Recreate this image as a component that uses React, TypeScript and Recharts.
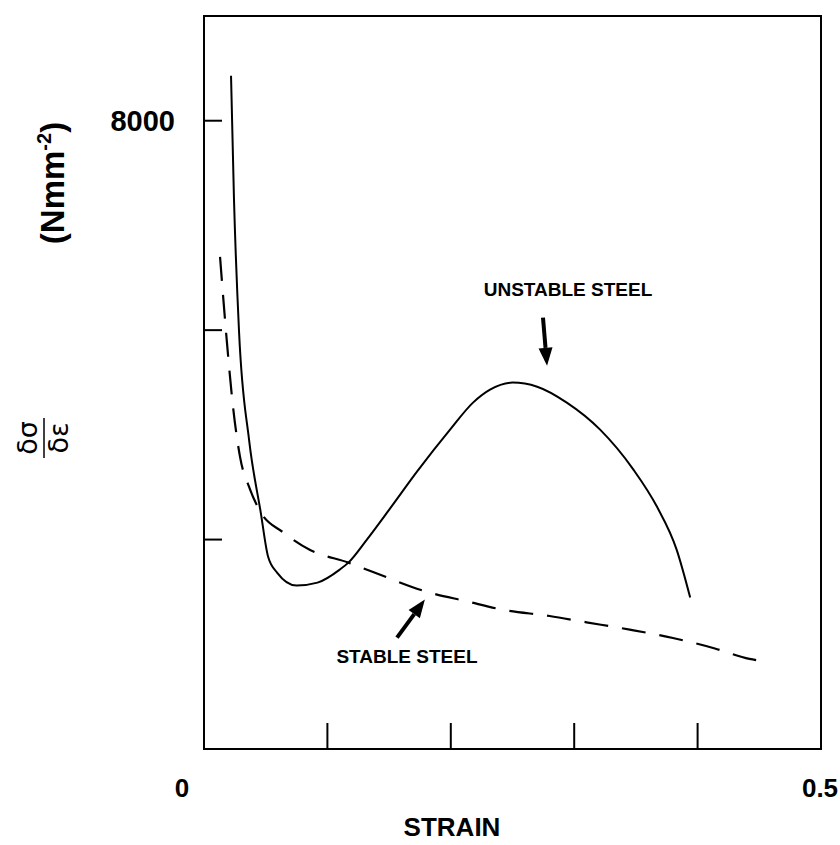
import React from 'react';
import {
  LineChart,
  Line,
  XAxis,
  YAxis,
  ReferenceArea,
  ReferenceLine,
  ReferenceDot,
} from 'recharts';

// Work-hardening rate dσ/dε against true strain for the two steels
const unstableStrain = [
  0.0219, 0.0243, 0.0284, 0.0365, 0.046, 0.0519, 0.0592, 0.075, 0.092, 0.11, 0.117,
  0.132, 0.1507, 0.1726, 0.1994, 0.218, 0.2318, 0.25, 0.27, 0.294, 0.321, 0.348,
  0.367, 0.383, 0.394,
];
const unstableRate = [
  8430, 7250, 5985, 4955, 4258, 3838, 3685, 3561, 3589, 3713, 3780, 4000, 4296, 4649,
  5050, 5308, 5432, 5499, 5460, 5308, 5050, 4668, 4315, 3904, 3446,
];

const stableStrain = [
  0.013, 0.0186, 0.0235, 0.0292, 0.0373, 0.046, 0.064, 0.086, 0.117, 0.137, 0.181,
  0.213, 0.242, 0.28, 0.31, 0.345, 0.38, 0.414, 0.442, 0.453,
];
const stableRate = [
  6700, 5880, 5270, 4790, 4480, 4260, 4070, 3900, 3780, 3690, 3500, 3410, 3330,
  3270, 3210, 3140, 3060, 2960, 2860, 2840,
];

const strainTicks = [0, 0.1, 0.2, 0.3, 0.4, 0.5];
const strainTickLabels: Record<string, string> = { '0': '0', '0.5': '0.5' };
const rateTicks = [4000, 6000, 8000];
const rateTickLabels: Record<string, string> = { '8000': '8000' };

const unstableData = unstableStrain.map((s, i) => ({ strain: s, rate: unstableRate[i] }));
const stableData = stableStrain.map((s, i) => ({ strain: s, rate: stableRate[i] }));

const FONT = '"Liberation Sans", Arial, Helvetica, sans-serif';

const XTick = (props: any) => {
  const { x, y, payload } = props;
  const v = payload.value;
  const label = strainTickLabels[String(v)];
  const inner = v > 0 && v < 0.5;
  return (
    <g>
      {inner && <line x1={x} y1={y} x2={x} y2={y - 26} stroke="#000" strokeWidth={2} />}
      {label && (
        <text
          x={v === 0 ? x - 22 : x - 1}
          y={y + 48}
          textAnchor="middle"
          fontFamily={FONT}
          fontWeight="bold"
          fontSize={26}
          fill="#000"
        >
          {label}
        </text>
      )}
    </g>
  );
};

const YTick = (props: any) => {
  const { x, y, payload } = props;
  const label = rateTickLabels[String(payload.value)];
  return (
    <g>
      <line x1={x} y1={y} x2={x + 18} y2={y} stroke="#000" strokeWidth={2} />
      {label && (
        <text
          x={x - 29}
          y={y + 10}
          textAnchor="end"
          fontFamily={FONT}
          fontWeight="bold"
          fontSize={29}
          fill="#000"
        >
          {label}
        </text>
      )}
    </g>
  );
};

const YTitle = () => (
  <g>
    <text
      transform="translate(64, 183) rotate(-90)"
      textAnchor="middle"
      fontFamily={FONT}
      fontWeight="bold"
      fontSize={33}
      fill="#000"
    >
      (Nmm
      <tspan fontSize={20} dy={-13}>
        -2
      </tspan>
      <tspan dy={13}>)</tspan>
    </text>
    <g transform="translate(44, 438) rotate(-90)">
      <text x={0} y={-7} textAnchor="middle" fontFamily="DejaVu Sans" fontSize={27} fill="#000">
        δσ
      </text>
      <line x1={-20} y1={0} x2={20} y2={0} stroke="#000" strokeWidth={1.5} />
      <text x={0} y={24} textAnchor="middle" fontFamily="DejaVu Sans" fontSize={27} fill="#000">
        δε
      </text>
    </g>
  </g>
);

const XTitle = (props: any) => {
  const { viewBox } = props;
  return (
    <text
      x={viewBox.x + 248}
      y={viewBox.y + 87}
      textAnchor="middle"
      fontFamily={FONT}
      fontWeight="bold"
      fontSize={26}
      fill="#000"
    >
      STRAIN
    </text>
  );
};

const Arrow = (props: any) => {
  const { x1, y1, x2, y2 } = props;
  const dx = x2 - x1;
  const dy = y2 - y1;
  const len = Math.sqrt(dx * dx + dy * dy);
  const ux = dx / len;
  const uy = dy / len;
  const head = 18;
  const half = 7;
  const bx = x2 - ux * head;
  const by = y2 - uy * head;
  return (
    <g>
      <line x1={x1} y1={y1} x2={bx} y2={by} stroke="#000" strokeWidth={4} />
      <polygon
        points={`${x2},${y2} ${bx - uy * half},${by + ux * half} ${bx + uy * half},${by - ux * half}`}
        fill="#000"
      />
    </g>
  );
};

const noteText = (text: string) => (props: any) => (
  <text
    x={props.cx}
    y={props.cy}
    textAnchor="middle"
    dominantBaseline="central"
    fontFamily={FONT}
    fontWeight="bold"
    fontSize={19}
    fill="#000"
  >
    {text}
  </text>
);

export default function App() {
  return (
    <div style={{ position: 'absolute', left: 0, top: 0, background: '#fff' }}>
      <LineChart
        width={840}
        height={845}
        margin={{ top: 16, right: 19, bottom: 95, left: 203 }}
      >
        <XAxis
          dataKey="strain"
          type="number"
          domain={[0, 0.5]}
          ticks={strainTicks}
          height={1}
          axisLine={false}
          tickLine={false}
          tickSize={0}
          tickMargin={0}
          tick={<XTick />}
          label={{ content: <XTitle /> }}
          allowDataOverflow
        />
        <YAxis
          type="number"
          domain={[2000, 9000]}
          ticks={rateTicks}
          width={1}
          axisLine={false}
          tickLine={false}
          tickSize={0}
          tickMargin={0}
          tick={<YTick />}
          label={{ content: <YTitle /> }}
          allowDataOverflow
        />
        <ReferenceArea
          x1={0}
          x2={0.5}
          y1={2000}
          y2={9000}
          fill="none"
          stroke="#000"
          strokeWidth={2}
        />
        <Line
          data={unstableData}
          dataKey="rate"
          type="monotone"
          stroke="#000"
          strokeWidth={2}
          dot={false}
          isAnimationActive={false}
        />
        <Line
          data={stableData}
          dataKey="rate"
          type="monotone"
          stroke="#000"
          strokeWidth={2.2}
          strokeDasharray="24 14"
          dot={false}
          isAnimationActive={false}
        />
        <ReferenceLine
          segment={[
            { x: 0.2747, y: 6120 },
            { x: 0.278, y: 5660 },
          ]}
          shape={<Arrow />}
        />
        <ReferenceLine
          segment={[
            { x: 0.1564, y: 3064 },
            { x: 0.179, y: 3427 },
          ]}
          shape={<Arrow />}
        />
        <ReferenceDot x={0.295} y={6390} r={0} shape={noteText('UNSTABLE STEEL')} />
        <ReferenceDot x={0.1645} y={2885} r={0} shape={noteText('STABLE STEEL')} />
      </LineChart>
    </div>
  );
}
